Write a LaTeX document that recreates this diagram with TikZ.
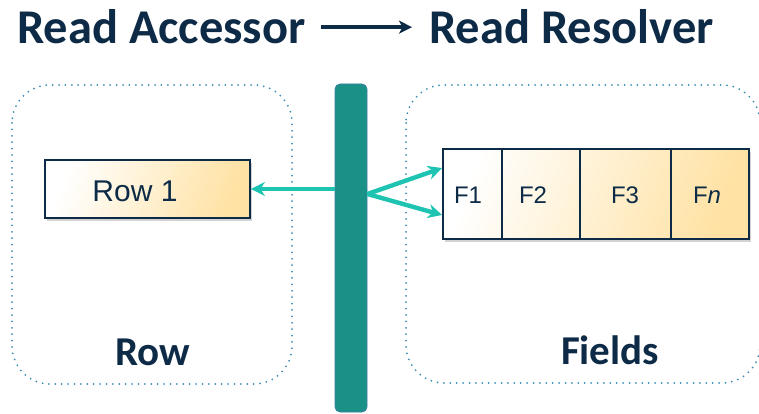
\documentclass[tikz,border=0pt]{standalone}
\usepackage{fontspec}
\setmainfont{Carlito}
\newfontfamily\boxfont{Liberation Sans}
\usetikzlibrary{arrows.meta,shadows}
\definecolor{navy}{HTML}{0D2B47}
\definecolor{barteal}{HTML}{1A9187}
\definecolor{baredge}{HTML}{3C7FA0}
\definecolor{linkteal}{HTML}{1EC4B1}
\definecolor{peach}{HTML}{FFE2A4}
\definecolor{dotblue}{HTML}{3D8CB3}
\begin{document}
\begin{tikzpicture}[x=1pt,y=-1pt,
  title/.style={font=\bfseries\fontsize{48.5}{52}\selectfont, text=navy, inner sep=0pt},
  group/.style={font=\bfseries\fontsize{41}{44}\selectfont, text=navy, inner sep=0pt},
  container/.style={draw=dotblue, line width=2pt, line cap=round,
    dash pattern=on 0pt off 6.4pt, rounded corners=38pt},
  cellbox/.style={draw=navy, line width=1.9pt, inner sep=0pt},
  shaded/.style={left color=white, right color=peach, shading angle=70,
    drop shadow={opacity=0.35, shadow xshift=2pt, shadow yshift=-3pt}},
  celltext/.style={font=\boxfont\fontsize{24}{26}\selectfont, text=navy, inner sep=0pt, anchor=base},
  rowtext/.style={font=\boxfont\fontsize{30}{32}\selectfont, text=navy, inner sep=0pt, anchor=base},
  link/.style={draw=linkteal, line width=4.4pt, -{Stealth[length=14pt,width=14pt,inset=4.5pt]}},
  titlelink/.style={draw=navy, line width=4.2pt, -{Stealth[length=13pt,width=13pt,inset=3.5pt]}}
]
\useasboundingbox (0,0) rectangle (759,414);

% heading
\node[title, anchor=base west] (acc) at (17,44) {Read Accessor};
\node[title, anchor=base west] (res) at (429,44) {Read Resolver};
\draw[titlelink, shorten <=15pt, shorten >=17pt] (acc.east) -- (acc.east -| res.west);

% dotted group frames
\draw[container] (12,85) rectangle (292,384);
\draw[container] (406,85) rectangle (760,383);

% row record
\node[cellbox, shaded, minimum width=205pt, minimum height=58pt] (row1) at (147.5,189) {};
\node[rowtext] (row1t) at (135,201) {Row 1};

% field records
\node[cellbox, shaded, minimum width=306pt, minimum height=90pt] (fields) at (596,194) {};
\node[cellbox, minimum width=59pt, minimum height=90pt] (f1) at (472.5,194) {};
\node[cellbox, minimum width=78pt, minimum height=90pt] (f2) at (541,194) {};
\node[cellbox, minimum width=91pt, minimum height=90pt] (f3) at (625.5,194) {};
\node[cellbox, minimum width=78pt, minimum height=90pt] (fn) at (710,194) {};
\node[celltext] (f1t) at (468,203) {F1};
\node[celltext] (f2t) at (533,203) {F2};
\node[celltext] (f3t) at (625,203) {F3};
\node[celltext] (fnt) at (707,203) {F\textit{n}};

% group captions
\node[group, anchor=base] (rowcap) at (153,365) {Row};
\node[group, anchor=base] (fieldcap) at (610,364) {Fields};

% accessor bar
\node[fill=barteal, draw=baredge, line width=0.8pt, rounded corners=5pt,
  minimum width=32pt, minimum height=328pt, inner sep=0pt] (bar) at (351,248) {};

% links out of the bar
\draw[link] (bar.west |- row1.east) -- (row1.east);
\draw[link] (bar.east |- f1.west) -- ([yshift=26pt]f1.west);
\draw[link] (bar.east |- f1.west) -- ([yshift=-21pt]f1.west);
\end{tikzpicture}
\end{document}
